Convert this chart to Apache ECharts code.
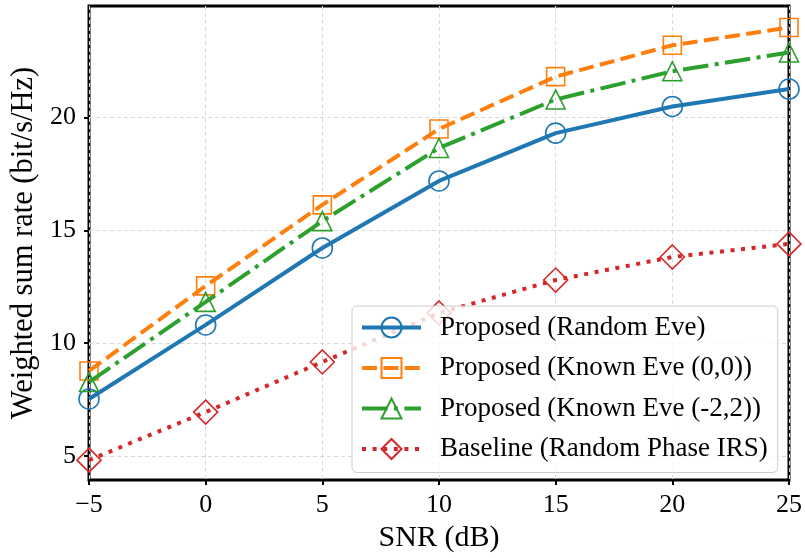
<!DOCTYPE html>
<html>
<head>
<meta charset="utf-8">
<script src="https://cdn.jsdelivr.net/npm/echarts@6/dist/echarts.min.js"></script>
<style>html,body{margin:0;padding:0;background:#fff}#c{width:805px;height:558px}</style>
</head>
<body>
<div id="c"></div>
<script>
const snr = [-5, 0, 5, 10, 15, 20, 25];
const randomEve = [7.53, 10.81, 14.22, 17.19, 19.31, 20.49, 21.26];
const knownEve00 = [8.77, 12.54, 16.13, 19.49, 21.81, 23.2, 23.99];
const knownEveM22 = [8.28, 11.83, 15.41, 18.65, 20.8, 22.05, 22.88];
const baseline = [4.82, 6.95, 9.17, 11.34, 12.8, 13.82, 14.4];
const yTicks = [5, 10, 15, 20];
const seriesNames = ['Proposed (Random Eve)', 'Proposed (Known Eve (0,0))', 'Proposed (Known Eve (-2,2))', 'Baseline (Random Phase IRS)'];

const FONT = '"Liberation Serif", "Times New Roman", serif';
const cols = ['#1f77b4', '#ff7f0e', '#2ca02c', '#d62728'];
const dashes = ['solid', [15, 6.4], [25.6, 6.4, 4, 6.4], [4, 6.6]];
const symbols = ['circle', 'rect', 'triangle', 'diamond'];
const symSizes = [20, 18, 19, 24];
const datas = [randomEve, knownEve00, knownEveM22, baseline];

const series = datas.map((d, i) => ({
  name: seriesNames[i],
  type: 'line',
  data: d.map((v, k) => [snr[k], v]),
  symbol: symbols[i],
  symbolSize: symSizes[i],
  showAllSymbol: true,
  clip: true,
  lineStyle: { color: cols[i], width: 4, type: dashes[i], cap: 'butt' },
  itemStyle: { color: 'rgba(0,0,0,0)', borderColor: cols[i], borderWidth: 1.6 },
  emphasis: { disabled: true },
  z: 2 + i
}));

const chart = echarts.init(document.getElementById('c'), null, { renderer: 'canvas' });
chart.setOption({
  animation: false,
  backgroundColor: '#fff',
  grid: { left: 89, right: 15, top: 6, bottom: 78, show: true, borderColor: '#000', borderWidth: 3, backgroundColor: 'transparent' },
  xAxis: {
    type: 'value', min: -5, max: 25, interval: 5,
    name: 'SNR (dB)', nameLocation: 'middle', nameGap: 39,
    nameTextStyle: { fontFamily: FONT, fontSize: 30, color: '#000' },
    axisLine: { show: false, onZero: false },
    axisTick: { show: true, length: 5, lineStyle: { color: '#000', width: 2 } },
    axisLabel: { fontFamily: FONT, fontSize: 26, color: '#000', margin: 12, formatter: v => String(v).replace('-', '\u2212') },
    splitLine: { show: true, lineStyle: { color: '#d9d9d9', width: 1, type: [4, 3] } }
  },
  yAxis: {
    type: 'value', min: 3.94, max: 24.94,
    name: 'Weighted sum rate (bit/s/Hz)', nameLocation: 'middle', nameGap: 46,
    nameTextStyle: { fontFamily: FONT, fontSize: 30.5, color: '#000' },
    axisLine: { show: false, onZero: false },
    axisTick: { show: true, length: 5, customValues: yTicks, lineStyle: { color: '#000', width: 2 } },
    axisLabel: { fontFamily: FONT, fontSize: 26, color: '#000', margin: 13, customValues: yTicks },
    splitLine: { show: true, lineStyle: { color: '#d9d9d9', width: 1, type: [4, 3] } }
  },
  legend: {
    left: 352, top: 306,
    orient: 'vertical',
    data: seriesNames,
    padding: [8, 10, 10, 8],
    itemWidth: 59, itemHeight: 25, itemGap: 13.5,
    lineStyle: { width: 4 },
    backgroundColor: 'rgba(255,255,255,0.8)',
    borderColor: '#cccccc', borderWidth: 1, borderRadius: 5,
    textStyle: { fontFamily: FONT, fontSize: 27, color: '#000', padding: [0, 0, 0, 14] },
    z: 10
  },
  series: series
});
</script>
</body>
</html>
